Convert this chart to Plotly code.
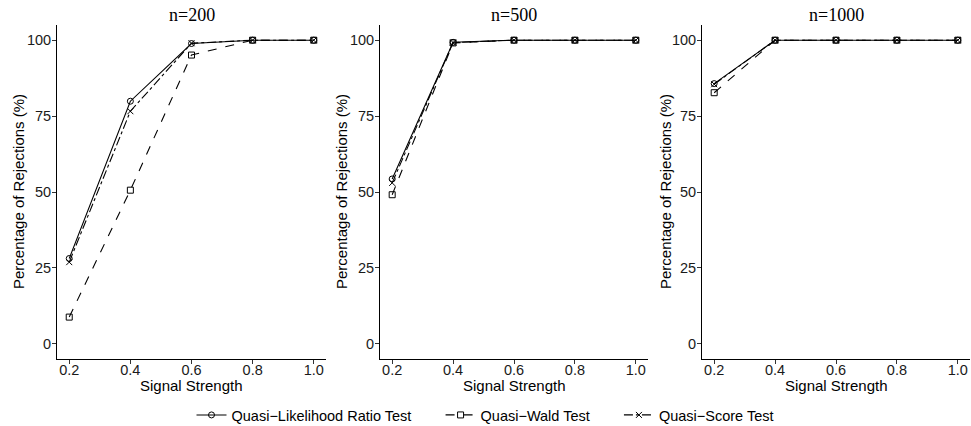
import plotly.graph_objects as go

signal = [0.2, 0.4, 0.6, 0.8, 1.0]
panels = ["n=200", "n=500", "n=1000"]
tests = ["Quasi\u2212Likelihood Ratio Test", "Quasi\u2212Wald Test", "Quasi\u2212Score Test"]

lrt = {
    "n=200": [28.1, 79.9, 98.9, 100, 100],
    "n=500": [54.3, 99.3, 100, 100, 100],
    "n=1000": [85.7, 100, 100, 100, 100],
}
wald = {
    "n=200": [8.8, 50.6, 95.1, 100, 100],
    "n=500": [49.1, 99.1, 100, 100, 100],
    "n=1000": [82.7, 100, 100, 100, 100],
}
score = {
    "n=200": [26.9, 76.6, 99.0, 100, 100],
    "n=500": [53.0, 99.2, 100, 100, 100],
    "n=1000": [85.5, 100, 100, 100, 100],
}

x_ticks = [0.2, 0.4, 0.6, 0.8, 1.0]
x_ticklabels = ["0.2", "0.4", "0.6", "0.8", "1.0"]
y_ticks = [0, 25, 50, 75, 100]

W, H = 971, 426
TOP, BOT = 25, 67
domains_px = [(57, 326), (380, 648), (702, 970)]
ytitle_px = [18, 341, 665]
pad = "\u00a0" * 6

styles = [
    (lrt, "solid", "circle-open"),
    (wald, "dash", "square-open"),
    (score, "dashdot", "x-thin-open"),
]

fig = go.Figure()
for i, p in enumerate(panels):
    xa = "x" if i == 0 else f"x{i+1}"
    ya = "y" if i == 0 else f"y{i+1}"
    for j, (data, dash, sym) in enumerate(styles):
        nm = tests[j] + (pad if j < 2 else "")
        fig.add_trace(go.Scatter(
            x=signal, y=data[p], xaxis=xa, yaxis=ya,
            mode="lines+markers", name=nm,
            legendgroup=tests[j], showlegend=(i == 0),
            line=dict(color="black", width=1.1, dash=dash),
            marker=dict(symbol=sym, size=6, color="black",
                        line=dict(color="black", width=1)),
        ))

plot_h = H - TOP - BOT
sans = "Liberation Sans, Arial, Helvetica, sans-serif"
layout = dict(
    width=W, height=H,
    paper_bgcolor="white", plot_bgcolor="white",
    margin=dict(l=0, r=0, t=TOP, b=BOT, autoexpand=False),
    font=dict(family=sans, size=14.5, color="black"),
    legend=dict(orientation="h", xref="paper", yref="container",
                x=0.5, xanchor="center", y=1 - 415 / H, yanchor="middle",
                font=dict(size=14.5), tracegroupgap=0),
    annotations=[],
)
for i, p in enumerate(panels):
    sfx = "" if i == 0 else str(i + 1)
    d0, d1 = domains_px[i]
    layout[f"xaxis{sfx}"] = dict(
        domain=[d0 / W, d1 / W], range=[0.16, 1.04],
        tickvals=x_ticks, ticktext=x_ticklabels,
        showline=True, linecolor="black", linewidth=1,
        ticks="outside", ticklen=4, tickcolor="#333", showgrid=False, zeroline=False,
        tickfont=dict(size=14.5, color="#1a1a1a"), anchor=f"y{sfx}", automargin=False,
        ticklabelstandoff=-6,
    )
    layout[f"yaxis{sfx}"] = dict(
        range=[-5, 105], tickvals=y_ticks,
        showline=True, linecolor="black", linewidth=1,
        ticks="outside", ticklen=4, tickcolor="#333", showgrid=False, zeroline=False,
        tickfont=dict(size=14.5, color="#1a1a1a"), anchor=f"x{sfx}", automargin=False,
        ticklabelstandoff=-2,
    )
    layout["annotations"].append(dict(
        text=p, x=(d0 + d1) / 2 / W, xref="paper",
        y=(H - BOT - 15) / plot_h, yref="paper",
        showarrow=False, font=dict(family="Liberation Serif, Times New Roman, serif", size=18),
        xanchor="center", yanchor="middle",
    ))
    layout["annotations"].append(dict(
        text="Signal Strength", x=(d0 + d1) / 2 / W, xref="paper",
        y=(H - BOT - 385) / plot_h, yref="paper",
        showarrow=False, font=dict(size=15), xanchor="center", yanchor="middle",
    ))
    layout["annotations"].append(dict(
        text="Percentage of Rejections (%)", x=ytitle_px[i] / W, xref="paper",
        y=0.5, yref="paper", textangle=-90,
        showarrow=False, font=dict(size=15), xanchor="center", yanchor="middle",
    ))

fig.update_layout(**layout)
fig.write_html("out.html", config={"displayModeBar": False},
               post_script="document.body.style.margin='0';document.body.style.padding='0';")
